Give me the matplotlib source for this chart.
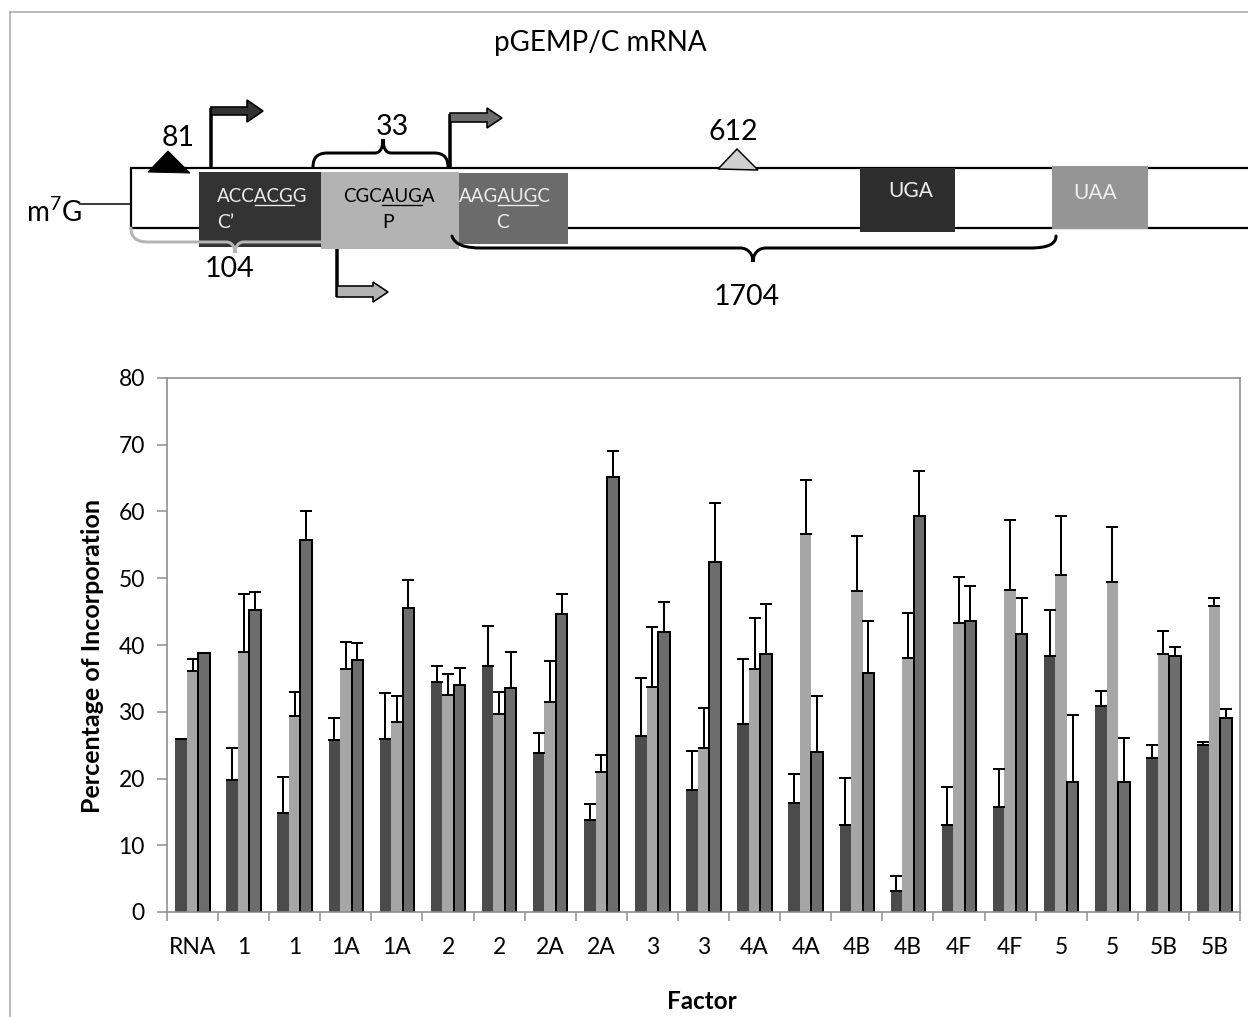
import matplotlib
matplotlib.use("Agg")
import matplotlib.pyplot as plt
import numpy as np
from matplotlib.patches import Rectangle, Polygon, PathPatch
from matplotlib.path import Path

# ---------------- data ----------------
categories = ["RNA", "1", "1", "1A", "1A", "2", "2", "2A", "2A", "3", "3",
              "4A", "4A", "4B", "4B", "4F", "4F", "5", "5", "5B", "5B"]

dark_vals = [25.9, 19.8, 14.9, 25.7, 25.9, 34.4, 36.9, 23.8, 13.8, 26.4, 18.3,
             28.1, 16.3, 13.0, 3.1, 13.0, 15.8, 38.4, 30.9, 23.0, 25.0]
dark_err = [0.0, 4.7, 5.3, 3.3, 6.9, 2.5, 5.9, 3.0, 2.4, 8.6, 5.8,
            9.8, 4.4, 7.1, 2.3, 5.7, 5.6, 6.8, 2.2, 2.0, 0.5]

light_vals = [36.1, 39.0, 29.4, 36.4, 28.5, 32.5, 29.6, 31.5, 20.9, 33.7, 24.5,
              36.4, 56.6, 48.1, 38.0, 43.3, 48.3, 50.5, 49.5, 38.7, 45.9]
light_err = [1.8, 8.7, 3.5, 4.0, 3.9, 3.2, 3.4, 6.1, 2.6, 9.0, 6.0,
             7.6, 8.1, 8.3, 6.8, 6.9, 10.4, 8.8, 8.2, 3.4, 1.2]

med_vals = [38.8, 45.2, 55.7, 37.8, 45.5, 34.0, 33.5, 44.6, 65.2, 42.0, 52.4,
            38.6, 23.9, 35.8, 59.3, 43.6, 41.6, 19.5, 19.5, 38.3, 29.0]
med_err = [0.0, 2.7, 4.3, 2.5, 4.2, 2.6, 5.4, 3.1, 3.9, 4.4, 8.8,
           7.6, 8.5, 7.8, 6.8, 5.3, 5.5, 10.0, 6.5, 1.4, 1.4]

y_ticks = [0, 10, 20, 30, 40, 50, 60, 70, 80]

# ---------------- style ----------------
plt.rcParams['font.family'] = ['Lato', 'DejaVu Sans']
plt.rcParams['mathtext.fontset'] = 'custom'
plt.rcParams['mathtext.rm'] = 'Lato'
plt.rcParams['mathtext.it'] = 'Lato:italic'
plt.rcParams['mathtext.bf'] = 'Lato:bold'

W, H = 1248, 1017
fig = plt.figure(figsize=(W / 100, H / 100), dpi=100)
fig.patch.set_facecolor('white')

PX = 0.72  # points per pixel

# ---------------- diagram layer (pixel coordinates) ----------------
ax0 = fig.add_axes([0, 0, 1, 1])
ax0.set_xlim(0, W)
ax0.set_ylim(H, 0)
ax0.axis('off')

# outer frame lines
ax0.plot([10, 10], [12, H], color='#a6a6a6', lw=1.5 * PX)
ax0.plot([10, W], [12, 12], color='#a6a6a6', lw=1.5 * PX)

ax0.text(600, 43, "pGEMP/C mRNA", fontsize=20, ha='center', va='center', color='black')

# mRNA body
ax0.add_patch(Rectangle((131, 168), 1200, 60, facecolor='white', edgecolor='black',
                        lw=2.2 * PX, zorder=1))
ax0.plot([80, 131], [204, 204], color='black', lw=1.5 * PX, zorder=1)
ax0.text(26, 212, r"m$^{7}$G", fontsize=20, ha='left', va='center', zorder=5)

# boxes
ax0.add_patch(Rectangle((199, 172), 122, 75, facecolor='#333333', edgecolor='none', zorder=2))


def brace(points_codes, color, lw, z):
    verts = [p for p, c in points_codes]
    codes = [c for p, c in points_codes]
    ax0.add_patch(PathPatch(Path(verts, codes), facecolor='none', edgecolor=color,
                            lw=lw, zorder=z, capstyle='round'))


M, L, C = Path.MOVETO, Path.LINETO, Path.CURVE4
# grey brace (104)
brace([((131, 228), M), ((131, 238), C), ((137, 242), C), ((148, 242), C),
       ((226, 242), L), ((232, 242), C), ((235, 247), C), ((235, 253), C),
       ((235, 247), C), ((238, 242), C), ((244, 242), C), ((330, 242), L)],
      '#b4b4b4', 3 * PX, 2.5)

ax0.add_patch(Rectangle((321, 172), 138, 77, facecolor='#b3b3b3', edgecolor='none', zorder=3))
ax0.add_patch(Rectangle((459, 173), 109, 71, facecolor='#6b6b6b', edgecolor='none', zorder=3))
ax0.add_patch(Rectangle((860, 168), 95, 64, facecolor='#2e2e2e', edgecolor='none', zorder=3))
ax0.add_patch(Rectangle((1052, 166), 96, 63, facecolor='#959595', edgecolor='none', zorder=3))

# black brace (1704)
brace([((452, 236), M), ((455, 245), C), ((465, 248), C), ((482, 248), C),
       ((740, 248), L), ((748, 248), C), ((753, 254), C), ((753, 262), C),
       ((753, 254), C), ((758, 248), C), ((766, 248), C), ((1030, 248), L),
       ((1048, 248), C), ((1056, 244), C), ((1056, 236), C)],
      'black', 3 * PX, 4)

# brace (33)
brace([((313, 167), M), ((313, 157), C), ((318, 153), C), ((328, 153), C),
       ((375, 153), L), ((380, 153), C), ((383, 148), C), ((383, 139), C),
       ((383, 148), C), ((386, 153), C), ((391, 153), C), ((434, 153), L),
       ((443, 153), C), ((448, 157), C), ((448, 167), C)],
      'black', 3 * PX, 4)

# bent arrows
def bent_arrow(vx, vy0, vy1, body_top, body_bot, head_top, head_bot, head_x, tip_x, fill):
    ax0.plot([vx, vx], [vy0, vy1], color='black', lw=3.5 * PX, zorder=5, solid_capstyle='butt')
    tip_y = (head_top + head_bot) / 2
    pts = [(vx, body_top), (head_x, body_top), (head_x, head_top), (tip_x, tip_y),
           (head_x, head_bot), (head_x, body_bot), (vx, body_bot)]
    ax0.add_patch(Polygon(pts, closed=True, facecolor=fill, edgecolor='black',
                          lw=1.6 * PX, zorder=6, joinstyle='miter'))

bent_arrow(211, 168, 108, 107, 115, 100, 122, 247, 263, '#333333')
bent_arrow(450, 167, 114, 113, 122, 108, 128, 487, 502, '#6b6b6b')
bent_arrow(337, 249, 297, 286, 297, 282, 302, 373, 388, '#b3b3b3')

# triangles
ax0.add_patch(Polygon([(148, 172), (190, 173), (168, 151)], closed=True,
                      facecolor='black', edgecolor='black', lw=1 * PX, zorder=6))
ax0.add_patch(Polygon([(718, 169), (758, 170), (737, 149)], closed=True,
                      facecolor='#d0d0d0', edgecolor='black', lw=1.5 * PX, zorder=6))

# numbers
for s, x, y in [("81", 178, 138), ("33", 392, 127), ("104", 230, 269),
                ("612", 733, 132), ("1704", 747, 297)]:
    ax0.text(x, y, s, fontsize=20.5, ha='center', va='center', zorder=7)

ax0.text(911, 191, "UGA", fontsize=15, color='#eeeeee', ha='center', va='center', zorder=7)
ax0.text(1095, 193, "UAA", fontsize=15, color='#eeeeee', ha='center', va='center', zorder=7)

renderer = fig.canvas.get_renderer()


def text_width(s, size):
    t = ax0.text(0, 0, s, fontsize=size)
    w = t.get_window_extent(renderer).width
    t.remove()
    return w


def seq_text(x, y, pre, mid, post, ha, color, size=13.5):
    full = pre + mid + post
    wf = text_width(full, size)
    x0 = x - wf / 2 if ha == 'center' else x
    ax0.text(x0, y, full, fontsize=size, ha='left', va='center', color=color, zorder=7)
    a = x0 + text_width(pre, size)
    b = x0 + text_width(pre + mid, size)
    ax0.plot([a, b], [y + 9, y + 9], color=color, lw=1.3 * PX, zorder=7)


seq_text(217, 196, "ACC", "ACG", "G", 'left', '#eeeeee')
ax0.text(217, 223, "C\u2019", fontsize=14, ha='left', va='center', color='#eeeeee', zorder=7)
seq_text(389, 196, "CGC", "AUG", "A", 'center', 'black')
ax0.text(388, 223, "P", fontsize=14, ha='center', va='center', color='black', zorder=7)
seq_text(505, 196, "AAG", "AUG", "C", 'center', '#eeeeee')
ax0.text(503, 223, "C", fontsize=14, ha='center', va='center', color='#eeeeee', zorder=7)

# ---------------- bar chart ----------------
ax = fig.add_axes([167 / W, (H - 912) / H, (1240 - 167) / W, 534 / H])
ax.set_facecolor('none')
x = np.arange(len(categories))
bw = 0.225
off = 0.225
series = [
    (dark_vals, dark_err, -off, '#4b4b4b', 'none', 0),
    (light_vals, light_err, 0.0, '#a6a6a6', 'none', 0),
    (med_vals, med_err, off, '#6d6d6d', 'black', 2.0 * PX),
]
for vals, errs, o, fc, ec, lw in series:
    ax.bar(x + o, vals, width=bw, color=fc, edgecolor=ec, linewidth=lw, zorder=2)
for vals, errs, o, fc, ec, lw in series:
    ax.errorbar(x + o, vals, yerr=[np.zeros(len(errs)), errs], fmt='none',
                ecolor='black', elinewidth=2.0 * PX, capsize=4.4, capthick=2.0 * PX, zorder=4)

ax.set_xlim(-0.5, len(categories) - 0.5)
ax.set_ylim(0, 80)
ax.set_yticks(y_ticks)
ax.set_yticklabels([str(v) for v in y_ticks], fontsize=16.5)
ax.set_xticks(x)
ax.set_xticklabels(categories, fontsize=16.5)
ax.set_xticks(np.arange(len(categories) + 1) - 0.5, minor=True)
ax.tick_params(axis='x', which='major', length=0, pad=18)
ax.tick_params(axis='x', which='minor', length=6.5, width=1.5 * PX, color='#8c8c8c', direction='out')
ax.tick_params(axis='y', which='major', length=7, width=1.5 * PX, color='#8c8c8c', pad=9)
for sp in ax.spines.values():
    sp.set_color('#8c8c8c')
    sp.set_linewidth(1.6 * PX)

ax.set_ylabel("Percentage of Incorporation", fontsize=18, fontweight='bold')
ax.yaxis.set_label_coords(-0.069, 0.48)
ax.set_xlabel("Factor", fontsize=17.5, fontweight='bold')
ax.xaxis.set_label_coords(0.4986, -0.168)
ax.xaxis.label.set_va('center')
ax.yaxis.label.set_va('center')

fig.savefig("out.png", dpi=100, facecolor='white')
